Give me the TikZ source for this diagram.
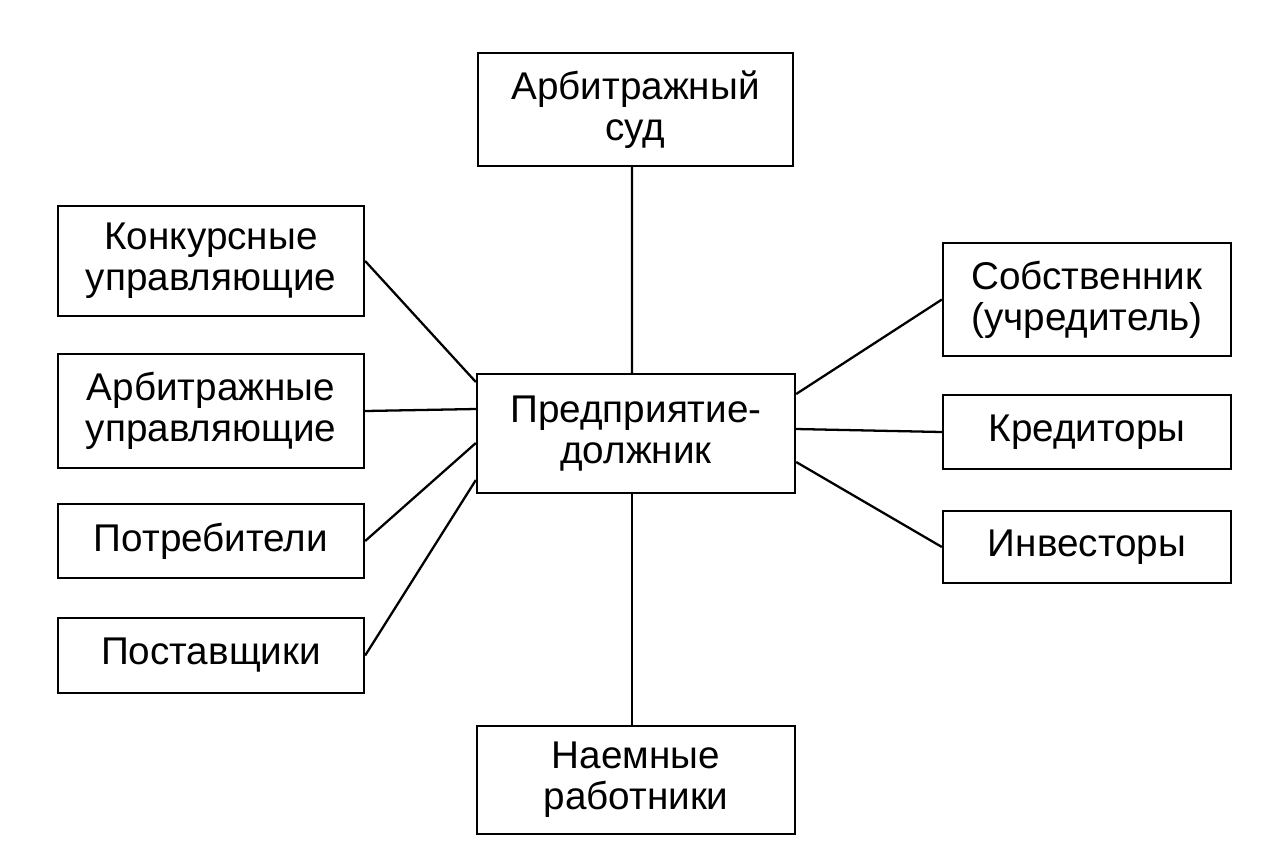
\documentclass[tikz,border=0pt]{standalone}
\usepackage{fontspec}
\setmainfont{Liberation Sans}
\begin{document}
\begin{tikzpicture}[
        box/.style={rectangle, draw, line width=1.3pt, minimum width=6.12cm, align=center, inner sep=0pt, font=\fontsize{22}{23.5}\selectfont},
        link/.style={line width=1.3pt}
    ]
        \useasboundingbox (0,0) rectangle (25.5,-17.08);

        \node[box, minimum width=6.3cm, minimum height=2.26cm] (court) at (12.71,-2.19) {Арбитражный\\суд};
        \node[box, minimum width=6.36cm, minimum height=2.38cm] (debtor) at (12.72,-8.67) {Предприятие-\\должник};
        \node[box, minimum width=6.36cm, minimum height=2.16cm] (workers) at (12.72,-15.6) {Наемные\\работники};

        \node[box, minimum height=2.2cm] (konk) at (4.22,-5.22) {Конкурсные\\управляющие};
        \node[box, minimum height=2.28cm] (arbitr) at (4.22,-8.22) {Арбитражные\\управляющие};
        \node[box, minimum height=1.48cm] (consum) at (4.22,-10.82) {Потребители};
        \node[box, minimum height=1.5cm] (suppl) at (4.22,-13.11) {Поставщики};

        \node[box, minimum width=5.76cm, minimum height=2.26cm] (owner) at (21.74,-5.99) {Собственник\\(учредитель)};
        \node[box, minimum width=5.76cm, minimum height=1.48cm] (credit) at (21.74,-8.64) {Кредиторы};
        \node[box, minimum width=5.76cm, minimum height=1.44cm] (invest) at (21.74,-10.94) {Инвесторы};

        \draw[link] ([xshift=-0.07cm]court.south) -- ([xshift=-0.08cm]debtor.north);
        \draw[link] ([xshift=-0.08cm]debtor.south) -- ([xshift=-0.08cm]workers.north);

        \draw[link] (konk.east) -- ([yshift=1.03cm]debtor.west);
        \draw[link] (arbitr.east) -- ([yshift=0.49cm]debtor.west);
        \draw[link] (consum.east) -- ([yshift=-0.19cm]debtor.west);
        \draw[link] (suppl.east) -- ([yshift=-0.93cm]debtor.west);

        \draw[link] ([yshift=0.79cm]debtor.east) -- (owner.west);
        \draw[link] ([yshift=0.09cm]debtor.east) -- (credit.west);
        \draw[link] ([yshift=-0.57cm]debtor.east) -- (invest.west);
    \end{tikzpicture}
\end{document}
